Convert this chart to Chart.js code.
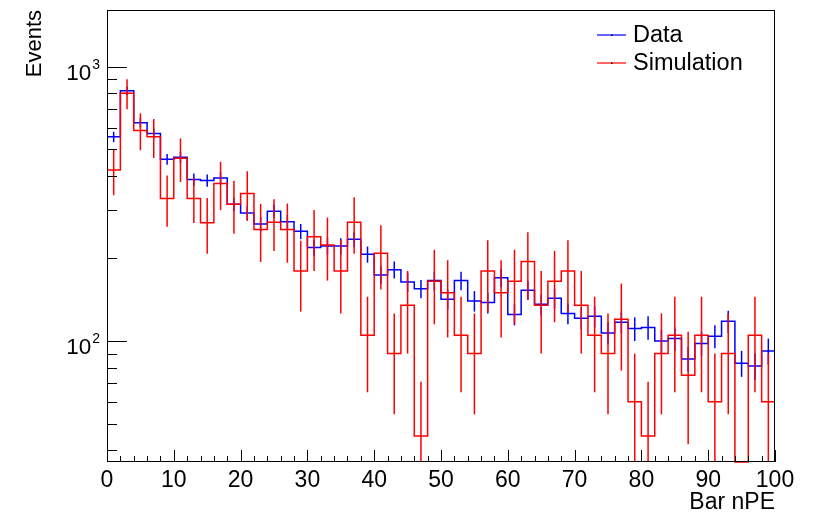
<!DOCTYPE html>
<html>
<head>
<meta charset="utf-8">
<script src="https://cdn.jsdelivr.net/npm/chart.js@4.4.1/dist/chart.umd.min.js"></script>
<style>
  html, body { margin: 0; padding: 0; background: #fff; }
  canvas { display: block; }
</style>
</head>
<body>
<canvas id="bar_npe" width="818" height="514"></canvas>
<script>
Chart.defaults.font.family = "'Liberation Sans', Arial, sans-serif";
Chart.defaults.color = '#000';

// lower edge of each 2 nPE bin
const binLow = [0, 2, 4, 6, 8, 10, 12, 14, 16, 18, 20, 22, 24, 26, 28, 30, 32, 34, 36, 38,
                40, 42, 44, 46, 48, 50, 52, 54, 56, 58, 60, 62, 64, 66, 68, 70, 72, 74, 76, 78,
                80, 82, 84, 86, 88, 90, 92, 94, 96, 98];

const dataCounts = [555, 817, 625, 571, 460, 468, 388, 385, 393, 315, 293, 267, 297, 272, 251, 219, 222, 222, 235, 207,
                    174, 182, 164, 155, 166, 142, 166, 140, 138, 170, 125, 153, 136, 143, 126, 121, 123, 107, 117, 111,
                    112, 100, 102, 86, 98, 104, 118, 83, 81, 92];
const dataErr = [24, 29, 25, 24, 21, 22, 20, 20, 20, 18, 17, 16, 17, 16, 16, 15, 15, 15, 15, 14,
                 13, 13, 13, 12, 13, 12, 13, 12, 12, 13, 11, 12, 12, 12, 11, 11, 11, 10, 11, 11,
                 11, 10, 10, 9, 10, 10, 11, 9, 9, 10];

const simCounts = [420, 800, 586, 555, 331, 464, 331, 270, 375, 315, 345, 255, 271, 255, 180, 240, 224, 180, 271, 105,
                   209, 90, 135, 45, 165, 150, 105, 90, 180, 150, 165, 195, 135, 165, 180, 135, 105, 90, 120, 60,
                   45, 90, 105, 75, 105, 60, 90, 0, 105, 60];
const simErr = [80, 100, 90, 90, 70, 84, 62, 62, 75, 69, 71, 61, 58, 62, 52, 60, 58, 54, 63, 40,
                55, 36, 45, 26, 50, 47, 40, 36, 53, 47, 50, 54, 45, 48, 53, 45, 40, 36, 42, 30,
                26, 36, 40, 33, 40, 30, 36, 0, 40, 30];

const yMajorTicks = [100, 1000];
const yMinorTicks = [40, 50, 60, 70, 80, 90, 200, 300, 400, 500, 600, 700, 800, 900];

const Y_MIN = 36.2;
const Y_MAX = 1610;
const BIN_W = 2;

// histogram outline: one point per lower edge, plus the last upper edge
// empty bins sit on the floor of the log axis, as ROOT draws them
function stepPoints(counts) {
    const pts = counts.map((v, i) => ({x: binLow[i], y: v > 0 ? v : Y_MIN}));
    pts.push({x: binLow[binLow.length - 1] + BIN_W, y: pts[pts.length - 1].y});
    return pts;
}

function drawErrors(chart, counts, errs, color) {
    const {ctx, chartArea: a, scales: {x, y}} = chart;
    ctx.save();
    ctx.beginPath();
    ctx.rect(a.left, a.top, a.right - a.left, a.bottom - a.top);
    ctx.clip();
    ctx.strokeStyle = color;
    ctx.lineWidth = 1.5;
    counts.forEach((v, i) => {
        if (!(v > 0)) return;
        const px = x.getPixelForValue(binLow[i] + BIN_W / 2);
        const lo = v - errs[i];
        const yTop = y.getPixelForValue(v + errs[i]);
        const yBot = lo > 0 ? y.getPixelForValue(lo) : a.bottom + 5;
        ctx.beginPath();
        ctx.moveTo(px, yTop);
        ctx.lineTo(px, yBot);
        ctx.stroke();
    });
    ctx.restore();
}

const rootStyle = {
    id: 'rootStyle',
    beforeDraw(chart) {
        const ctx = chart.ctx;
        ctx.save();
        ctx.fillStyle = '#fff';
        ctx.fillRect(0, 0, chart.width, chart.height);
        ctx.restore();
    },
    afterDatasetsDraw(chart) {
        const {ctx, chartArea: a, scales: {x, y}} = chart;

        drawErrors(chart, dataCounts, dataErr, 'rgb(0,0,255)');
        drawErrors(chart, simCounts, simErr, 'rgb(255,0,0)');

        ctx.save();
        ctx.strokeStyle = '#000';
        ctx.lineWidth = 1;

        // frame
        ctx.strokeRect(Math.round(a.left) + 0.5, Math.round(a.top) + 0.5,
                       Math.round(a.right - a.left) - 1, Math.round(a.bottom - a.top) - 1);

        // ticks point inwards
        const line = (x1, y1, x2, y2) => {
            ctx.beginPath(); ctx.moveTo(x1, y1); ctx.lineTo(x2, y2); ctx.stroke();
        };
        for (let v = 0; v <= 100; v += 2) {
            const px = Math.round(x.getPixelForValue(v)) + 0.5;
            line(px, a.bottom, px, a.bottom - (v % 10 === 0 ? 12 : 6));
        }
        yMinorTicks.forEach(v => {
            const py = Math.round(y.getPixelForValue(v)) + 0.5;
            line(a.left, py, a.left + 10, py);
        });
        yMajorTicks.forEach(v => {
            const py = Math.round(y.getPixelForValue(v)) + 0.5;
            line(a.left, py, a.left + 20, py);
        });

        // y labels as 10^n
        ctx.fillStyle = '#000';
        ctx.textAlign = 'right';
        ctx.textBaseline = 'alphabetic';
        yMajorTicks.forEach(v => {
            const py = y.getPixelForValue(v);
            const expo = String(Math.round(Math.log10(v)));
            ctx.font = "14px 'Liberation Sans', Arial, sans-serif";
            const ew = ctx.measureText(expo).width;
            ctx.fillText(expo, 100, py + 1.8);
            ctx.font = "22.5px 'Liberation Sans', Arial, sans-serif";
            ctx.fillText('10', 100 - ew - 1, py + 13.3);
        });

        // legend
        const entries = [
            {text: 'Data', color: 'rgba(0,0,255,0.6)', y: 35},
            {text: 'Simulation', color: 'rgba(255,0,0,0.6)', y: 63}
        ];
        ctx.textAlign = 'left';
        ctx.font = "23.5px 'Liberation Sans', Arial, sans-serif";
        entries.forEach(e => {
            ctx.strokeStyle = e.color;
            ctx.lineWidth = 2;
            line(597, e.y, 626, e.y);
            ctx.fillStyle = '#000';
            ctx.fillRect(611, e.y - 0.5, 1.5, 1.5);
            ctx.fillText(e.text, 633, e.y + 6.5);
        });
        ctx.restore();
    }
};

new Chart(document.getElementById('bar_npe').getContext('2d'), {
    type: 'line',
    data: {
        datasets: [{
            label: 'Data',
            data: stepPoints(dataCounts),
            borderColor: 'rgb(0,0,255)',
            borderWidth: 1.5,
            stepped: 'before',
            pointRadius: 0,
            fill: false,
            order: 2,
            clip: 2,
        }, {
            label: 'Simulation',
            data: stepPoints(simCounts),
            borderColor: 'rgb(255,0,0)',
            borderWidth: 1.5,
            stepped: 'before',
            pointRadius: 0,
            fill: false,
            order: 1,
            clip: 2,
        }]
    },
    options: {
        responsive: false,
        animation: false,
        events: [],
        layout: {
            padding: {left: 0, right: 43, top: 10, bottom: 0}
        },
        scales: {
            x: {
                type: 'linear',
                min: 0,
                max: 100,
                grid: {display: false, drawTicks: false},
                border: {display: false},
                ticks: {
                    stepSize: 10,
                    font: {size: 23},
                    color: '#000',
                    padding: 5,
                    maxRotation: 0,
                    autoSkip: false
                },
                title: {
                    display: true,
                    text: 'Bar nPE',
                    align: 'end',
                    font: {size: 23, lineHeight: 1},
                    padding: 0
                },
                afterFit: (s) => { s.height = 52; }
            },
            y: {
                type: 'logarithmic',
                min: Y_MIN,
                max: Y_MAX,
                grid: {display: false, drawTicks: false},
                border: {display: false},
                ticks: {display: false},
                title: {
                    display: true,
                    text: 'Events',
                    align: 'end',
                    font: {size: 22, lineHeight: 1},
                    padding: {top: 24, bottom: 0}
                },
                afterFit: (s) => { s.width = 107; }
            }
        },
        plugins: {
            legend: {display: false},
            tooltip: {enabled: false}
        }
    },
    plugins: [rootStyle]
});
</script>
</body>
</html>
